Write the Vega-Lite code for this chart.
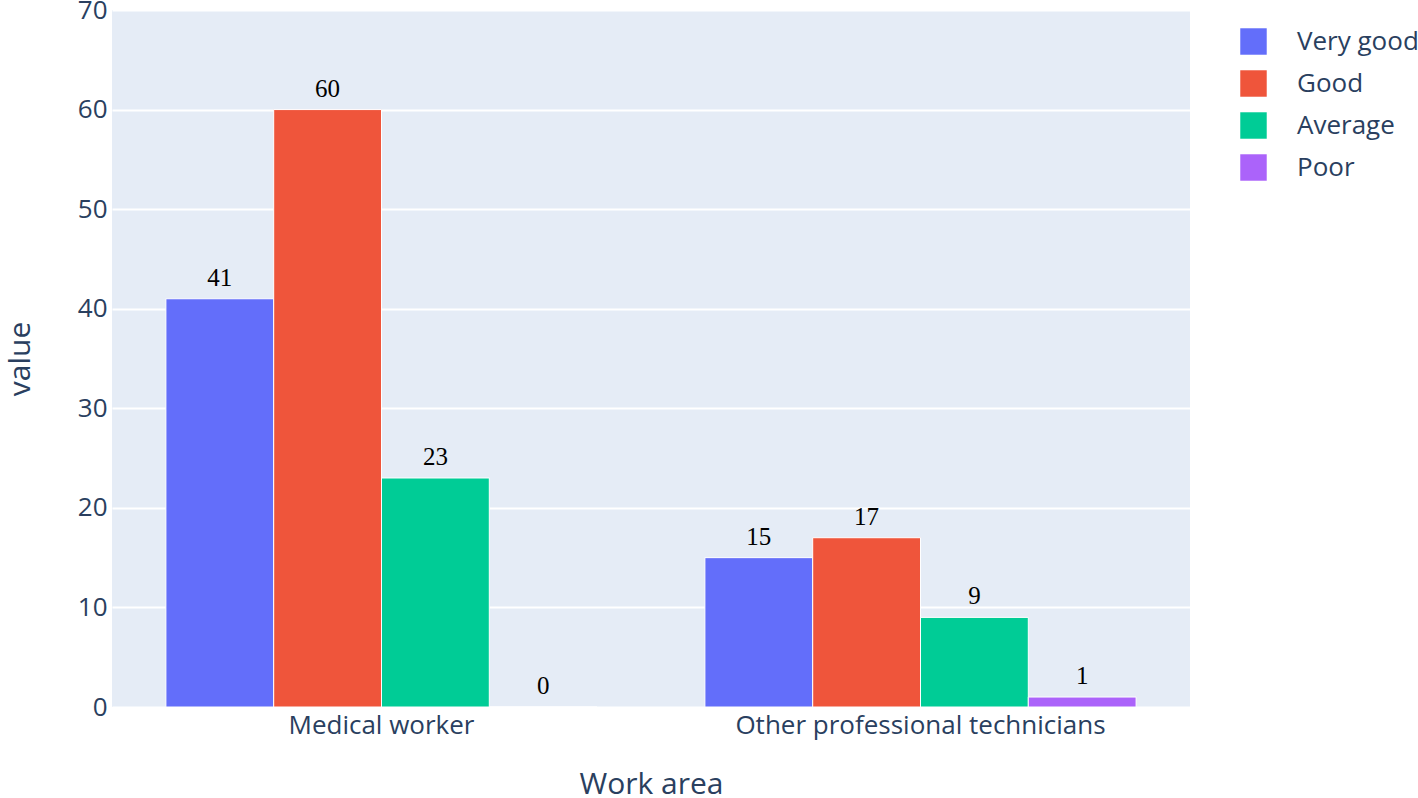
{
  "$schema": "https://vega.github.io/schema/vega-lite/v6.json",
  "width": 1078,
  "height": 697,
  "autosize": {"type": "none"},
  "padding": {"left": 112, "top": 10, "right": 228, "bottom": 91},
  "background": "white",
  "config": {
    "view": {"fill": "#E5ECF6", "stroke": null},
    "font": "Open Sans"
  },
  "data": {
    "values": [
      {"area": "Medical worker", "rating": "Very good", "value": 41},
      {"area": "Medical worker", "rating": "Good", "value": 60},
      {"area": "Medical worker", "rating": "Average", "value": 23},
      {"area": "Medical worker", "rating": "Poor", "value": 0},
      {"area": "Other professional technicians", "rating": "Very good", "value": 15},
      {"area": "Other professional technicians", "rating": "Good", "value": 17},
      {"area": "Other professional technicians", "rating": "Average", "value": 9},
      {"area": "Other professional technicians", "rating": "Poor", "value": 1}
    ]
  },
  "encoding": {
    "x": {
      "field": "area",
      "type": "nominal",
      "scale": {"paddingInner": 0.2, "paddingOuter": 0.1},
      "axis": {
        "title": "Work area",
        "labelAngle": 0,
        "labelLimit": 0,
        "labelFontSize": 26,
        "labelColor": "#2a3f5f",
        "labelPadding": 5,
        "ticks": false,
        "domain": false,
        "titleFontSize": 30,
        "titleFontWeight": "normal",
        "titleColor": "#2a3f5f",
        "titlePadding": 31
      }
    },
    "xOffset": {"field": "rating", "type": "nominal", "sort": ["Very good", "Good", "Average", "Poor"]},
    "y": {
      "field": "value",
      "type": "quantitative",
      "scale": {"domain": [0, 70], "nice": false},
      "axis": {
        "title": "value",
        "values": [0, 10, 20, 30, 40, 50, 60, 70],
        "labelFontSize": 26,
        "labelColor": "#2a3f5f",
        "labelPadding": 5,
        "ticks": false,
        "domain": false,
        "gridColor": "white",
        "gridWidth": 2,
        "titleFontSize": 30,
        "titleFontWeight": "normal",
        "titleColor": "#2a3f5f",
        "titlePadding": 42
      }
    }
  },
  "layer": [
    {
      "mark": {"type": "bar", "stroke": "white", "strokeWidth": 1},
      "encoding": {
        "color": {
          "field": "rating",
          "type": "nominal",
          "sort": ["Very good", "Good", "Average", "Poor"],
          "scale": {
            "domain": ["Very good", "Good", "Average", "Poor"],
            "range": ["#636EFA", "#EF553B", "#00CC96", "#AB63FA"]
          },
          "legend": {
            "title": null,
            "orient": "none",
            "legendX": 1128,
            "legendY": 18,
            "symbolType": "square",
            "symbolSize": 700,
            "symbolStrokeWidth": 0,
            "labelFontSize": 26,
            "labelColor": "#2a3f5f",
            "labelOffset": 30,
            "labelLimit": 0,
            "rowPadding": 15
          }
        }
      }
    },
    {
      "mark": {"type": "text", "baseline": "alphabetic", "dy": -13, "font": "Liberation Serif", "fontSize": 25, "color": "black"},
      "encoding": {
        "text": {"field": "value", "type": "quantitative"}
      }
    }
  ]
}
